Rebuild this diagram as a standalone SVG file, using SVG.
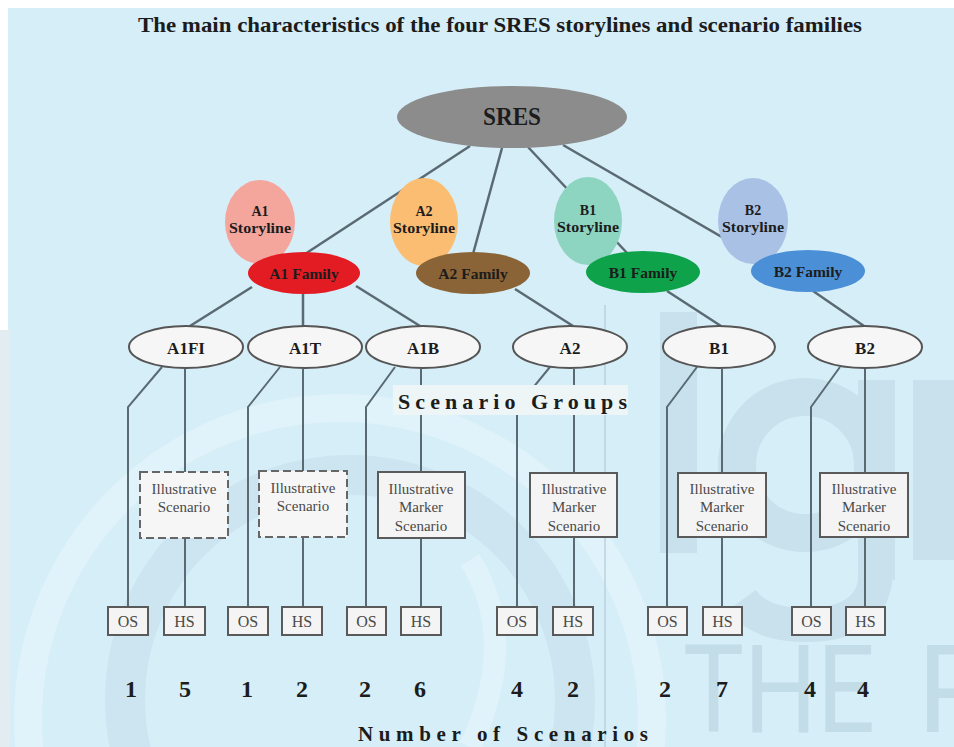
<svg xmlns="http://www.w3.org/2000/svg" width="954" height="747" viewBox="0 0 954 747">
<defs>
<style>
.bold{font-family:"Liberation Serif","Times New Roman",serif;font-weight:bold;fill:#1c1c1c}
.reg{font-family:"Liberation Serif","Times New Roman",serif;fill:#4a4a4a}
.ln{stroke:#5a6a73;fill:none}
.grp{fill:#f6f6f6;stroke:#555;stroke-width:2}
.box{fill:#f4f4f4;stroke:#5a5a5a;stroke-width:2}
.dash{fill:#f6f6f6;stroke:#666;stroke-width:2;stroke-dasharray:8 4}
.wm{fill:#c8e1ec}
.wmt{font-family:Roboto,"Open Sans",sans-serif;font-weight:400;font-size:122px;fill:#c2dce8}
</style>
<clipPath id="panel"><rect x="8" y="8" width="946" height="739"/></clipPath>
</defs>
<rect x="0" y="0" width="954" height="747" fill="#ffffff"/>
<rect x="8" y="8" width="946" height="739" fill="#d6eef8"/>
<rect x="0" y="330" width="10" height="417" fill="#e3edf1"/>
<g id="watermark" clip-path="url(#panel)">
  <circle cx="340" cy="720" r="312" fill="none" stroke="#e0f2fa" stroke-width="28"/>
  <circle cx="350" cy="700" r="225" fill="none" stroke="#cde5f0" stroke-width="40"/>
  <path d="M470,747 Q520,640 470,560" fill="none" stroke="#e0f2fa" stroke-width="22"/>
  <rect x="660" y="312" width="37" height="241" class="wm"/>
  <circle cx="805" cy="465" r="68" fill="none" stroke="#c8e1ec" stroke-width="38"/>
  <rect x="858" y="380" width="37" height="200" class="wm"/>
  <path d="M876,570 Q876,625 805,625 Q760,625 742,600" fill="none" stroke="#c8e1ec" stroke-width="34"/>
  <rect x="913" y="380" width="41" height="180" class="wm"/>
  <text class="wmt" x="683" y="732" textLength="192" lengthAdjust="spacingAndGlyphs">THE</text>
  <text class="wmt" x="917" y="732">P</text>
</g>
<line x1="605" y1="305" x2="605" y2="747" stroke="#a9c3ce" stroke-width="1"/>
<text class="bold" x="500" y="32" font-size="21" text-anchor="middle" textLength="724" lengthAdjust="spacingAndGlyphs">The main characteristics of the four SRES storylines and scenario families</text>
<g id="connectors">
  <g class="ln" stroke-width="2.5">
    <path d="M470,146 L305,254"/>
    <path d="M502,148 L473,254"/>
    <path d="M528,147 L628,254"/>
    <path d="M563,145 L765,262"/>
    <path d="M252,287 L190,326"/>
    <path d="M303,294 L303,326"/>
    <path d="M356,286 L420,326"/>
    <path d="M515,289 L573,326"/>
    <path d="M667,291 L721,326"/>
    <path d="M813,291 L864,326"/>
  </g>
  <g class="ln" stroke-width="2">
    <path d="M162,367 L128,407 L128,607"/>
    <path d="M185,369 V472 M185,538 V607"/>
    <path d="M280,367 L248,407 L248,607"/>
    <path d="M303,369 V471 M303,537 V607"/>
    <path d="M395,367 L366,407 L366,607"/>
    <path d="M421,369 V472 M421,538 V607"/>
    <path d="M550,367 L517,407 L517,607"/>
    <path d="M574,369 V473 M574,537 V607"/>
    <path d="M697,367 L667,407 L667,607"/>
    <path d="M722,369 V473 M722,537 V607"/>
    <path d="M840,367 L811,407 L811,607"/>
    <path d="M865,369 V473 M865,537 V607"/>
  </g>
</g>
<g id="sres">
  <ellipse cx="512" cy="117" rx="115" ry="31" fill="#8c8c8c"/>
  <text class="bold" x="512" y="125" font-size="26" text-anchor="middle" textLength="58" lengthAdjust="spacingAndGlyphs">SRES</text>
</g>
<g id="a1-storyline">
  <ellipse cx="260" cy="222" rx="35" ry="42" fill="#f4a59c"/>
  <text class="bold" x="260" y="216" font-size="14" text-anchor="middle">A1</text>
  <text class="bold" x="260" y="233" font-size="14" text-anchor="middle" textLength="62" lengthAdjust="spacingAndGlyphs">Storyline</text>
</g>
<g id="a2-storyline">
  <ellipse cx="424" cy="222" rx="34" ry="44" fill="#fbbd72"/>
  <text class="bold" x="424" y="216" font-size="14" text-anchor="middle">A2</text>
  <text class="bold" x="424" y="233" font-size="14" text-anchor="middle" textLength="62" lengthAdjust="spacingAndGlyphs">Storyline</text>
</g>
<g id="b1-storyline">
  <ellipse cx="588" cy="221" rx="34" ry="44" fill="#8ed5c1"/>
  <text class="bold" x="588" y="215" font-size="14" text-anchor="middle">B1</text>
  <text class="bold" x="588" y="232" font-size="14" text-anchor="middle" textLength="62" lengthAdjust="spacingAndGlyphs">Storyline</text>
</g>
<g id="b2-storyline">
  <ellipse cx="753" cy="221" rx="35" ry="43" fill="#aac1e6"/>
  <text class="bold" x="753" y="215" font-size="14" text-anchor="middle">B2</text>
  <text class="bold" x="753" y="232" font-size="14" text-anchor="middle" textLength="62" lengthAdjust="spacingAndGlyphs">Storyline</text>
</g>
<g id="a1-family">
  <ellipse cx="304" cy="273" rx="56" ry="21" fill="#e31b23"/>
  <text class="bold" x="304" y="279" font-size="15.5" text-anchor="middle">A1 Family</text>
</g>
<g id="a2-family">
  <ellipse cx="473" cy="273" rx="57" ry="21" fill="#8a6336"/>
  <text class="bold" x="473" y="279" font-size="15.5" text-anchor="middle">A2 Family</text>
</g>
<g id="b1-family">
  <ellipse cx="643" cy="272" rx="57" ry="21" fill="#0ea24a"/>
  <text class="bold" x="643" y="278" font-size="15.5" text-anchor="middle">B1 Family</text>
</g>
<g id="b2-family">
  <ellipse cx="808" cy="271" rx="57" ry="21" fill="#4b8fd6"/>
  <text class="bold" x="808" y="277" font-size="15.5" text-anchor="middle">B2 Family</text>
</g>
<g id="g-a1fi"><ellipse class="grp" cx="186" cy="347" rx="57" ry="21"/><text class="bold" x="186" y="354" font-size="17" text-anchor="middle">A1FI</text></g>
<g id="g-a1t"><ellipse class="grp" cx="305" cy="347" rx="57" ry="21"/><text class="bold" x="305" y="354" font-size="17" text-anchor="middle">A1T</text></g>
<g id="g-a1b"><ellipse class="grp" cx="423" cy="347" rx="57" ry="21"/><text class="bold" x="423" y="354" font-size="17" text-anchor="middle">A1B</text></g>
<g id="g-a2"><ellipse class="grp" cx="570" cy="347" rx="57" ry="21"/><text class="bold" x="570" y="354" font-size="17" text-anchor="middle">A2</text></g>
<g id="g-b1"><ellipse class="grp" cx="719" cy="347" rx="56" ry="21"/><text class="bold" x="719" y="354" font-size="17" text-anchor="middle">B1</text></g>
<g id="g-b2"><ellipse class="grp" cx="865" cy="347" rx="57" ry="21"/><text class="bold" x="865" y="354" font-size="17" text-anchor="middle">B2</text></g>
<g id="label-groups">
  <rect x="393" y="385" width="235" height="30" fill="#eef5f7"/>
  <text class="bold" x="398" y="409" font-size="22" textLength="229" lengthAdjust="spacing" fill="#2a2a2a">Scenario Groups</text>
</g>
<g id="is-a1fi"><rect class="dash" x="140" y="472" width="88" height="66"/><text class="reg" x="184" y="494" font-size="15" text-anchor="middle">Illustrative</text><text class="reg" x="184" y="512" font-size="15" text-anchor="middle">Scenario</text></g>
<g id="is-a1t"><rect class="dash" x="259" y="471" width="88" height="66"/><text class="reg" x="303" y="493" font-size="15" text-anchor="middle">Illustrative</text><text class="reg" x="303" y="511" font-size="15" text-anchor="middle">Scenario</text></g>
<g id="ims-a1b"><rect class="box" x="378" y="472" width="87" height="66"/><text class="reg" x="421" y="494" font-size="15" text-anchor="middle">Illustrative</text><text class="reg" x="421" y="512" font-size="15" text-anchor="middle">Marker</text><text class="reg" x="421" y="531" font-size="15" text-anchor="middle">Scenario</text></g>
<g id="ims-a2"><rect class="box" x="530" y="473" width="87" height="64"/><text class="reg" x="574" y="494" font-size="15" text-anchor="middle">Illustrative</text><text class="reg" x="574" y="512" font-size="15" text-anchor="middle">Marker</text><text class="reg" x="574" y="531" font-size="15" text-anchor="middle">Scenario</text></g>
<g id="ims-b1"><rect class="box" x="678" y="473" width="88" height="64"/><text class="reg" x="722" y="494" font-size="15" text-anchor="middle">Illustrative</text><text class="reg" x="722" y="512" font-size="15" text-anchor="middle">Marker</text><text class="reg" x="722" y="531" font-size="15" text-anchor="middle">Scenario</text></g>
<g id="ims-b2"><rect class="box" x="820" y="473" width="88" height="64"/><text class="reg" x="864" y="494" font-size="15" text-anchor="middle">Illustrative</text><text class="reg" x="864" y="512" font-size="15" text-anchor="middle">Marker</text><text class="reg" x="864" y="531" font-size="15" text-anchor="middle">Scenario</text></g>
<g id="os-a1fi"><rect class="box" x="108" y="607" width="40" height="28"/><text class="reg" x="128" y="627" font-size="16" text-anchor="middle">OS</text></g>
<g id="hs-a1fi"><rect class="box" x="164" y="607" width="41" height="28"/><text class="reg" x="184.5" y="627" font-size="16" text-anchor="middle">HS</text></g>
<g id="os-a1t"><rect class="box" x="228" y="607" width="40" height="28"/><text class="reg" x="248" y="627" font-size="16" text-anchor="middle">OS</text></g>
<g id="hs-a1t"><rect class="box" x="282" y="607" width="40" height="28"/><text class="reg" x="302" y="627" font-size="16" text-anchor="middle">HS</text></g>
<g id="os-a1b"><rect class="box" x="347" y="607" width="39" height="28"/><text class="reg" x="366.5" y="627" font-size="16" text-anchor="middle">OS</text></g>
<g id="hs-a1b"><rect class="box" x="401" y="607" width="40" height="28"/><text class="reg" x="421" y="627" font-size="16" text-anchor="middle">HS</text></g>
<g id="os-a2"><rect class="box" x="497" y="607" width="40" height="28"/><text class="reg" x="517" y="627" font-size="16" text-anchor="middle">OS</text></g>
<g id="hs-a2"><rect class="box" x="553" y="607" width="40" height="28"/><text class="reg" x="573" y="627" font-size="16" text-anchor="middle">HS</text></g>
<g id="os-b1"><rect class="box" x="648" y="607" width="39" height="28"/><text class="reg" x="667.5" y="627" font-size="16" text-anchor="middle">OS</text></g>
<g id="hs-b1"><rect class="box" x="703" y="607" width="39" height="28"/><text class="reg" x="722.5" y="627" font-size="16" text-anchor="middle">HS</text></g>
<g id="os-b2"><rect class="box" x="792" y="607" width="39" height="28"/><text class="reg" x="811.5" y="627" font-size="16" text-anchor="middle">OS</text></g>
<g id="hs-b2"><rect class="box" x="846" y="607" width="39" height="28"/><text class="reg" x="865.5" y="627" font-size="16" text-anchor="middle">HS</text></g>
<g id="counts" font-size="24" text-anchor="middle">
  <text class="bold" x="131" y="697">1</text>
  <text class="bold" x="185" y="697">5</text>
  <text class="bold" x="247" y="697">1</text>
  <text class="bold" x="302" y="697">2</text>
  <text class="bold" x="365" y="697">2</text>
  <text class="bold" x="420" y="697">6</text>
  <text class="bold" x="517" y="697">4</text>
  <text class="bold" x="573" y="697">2</text>
  <text class="bold" x="665" y="697">2</text>
  <text class="bold" x="722" y="697">7</text>
  <text class="bold" x="810" y="697">4</text>
  <text class="bold" x="863" y="697">4</text>
</g>
<text class="bold" x="358" y="741" font-size="21" textLength="290" lengthAdjust="spacing" fill="#2a2a2a">Number of Scenarios</text>
</svg>
